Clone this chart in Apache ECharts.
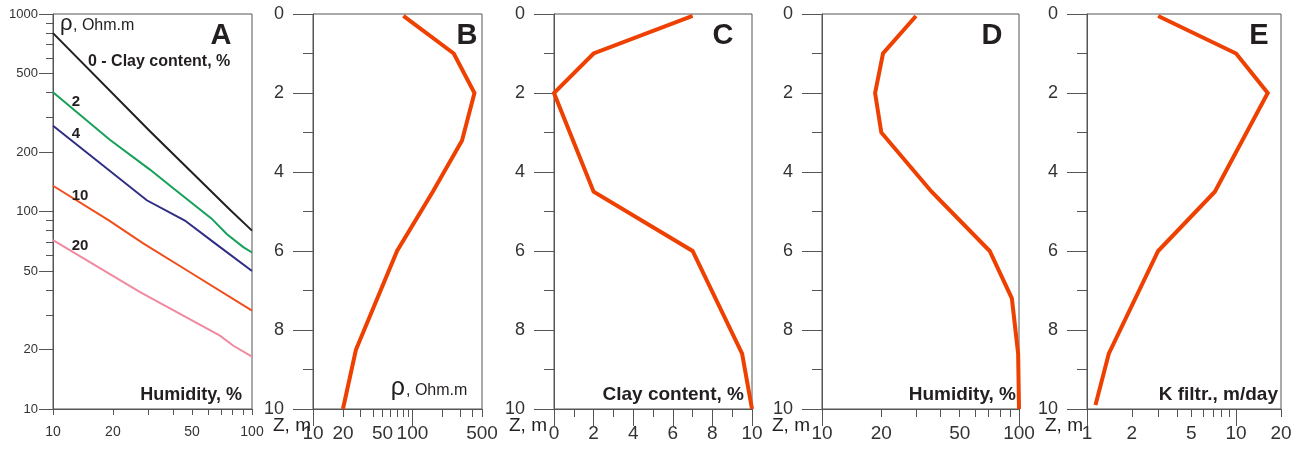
<!DOCTYPE html>
<html>
<head>
<meta charset="utf-8">
<script src="https://cdn.jsdelivr.net/npm/echarts@6/dist/echarts.min.js"></script>
<style>
html,body{margin:0;padding:0;background:#fff;}
#main{width:1298px;height:451px;}
</style>
</head>
<body>
<div id="main"></div>
<script>
// ---------- DATA ----------
// Panel A: resistivity vs humidity for several clay contents
const A_clay0_W = [10, 30.7, 77.5, 100];
const A_clay0_rho = [800, 255, 102, 80];
const A_clay2_W = [10, 19.3, 30.7, 40.2, 62.7, 74.6, 90.4, 100];
const A_clay2_rho = [402, 231, 163, 131, 92, 77, 66, 62];
const A_clay4_W = [10, 29.6, 46, 64, 100];
const A_clay4_rho = [272, 114, 90, 70, 50];
const A_clay10_W = [10, 19, 28.4, 47, 100];
const A_clay10_rho = [135, 90.5, 69, 50.4, 31.5];
const A_clay20_W = [10, 27.4, 69, 80.6, 100];
const A_clay20_rho = [71.6, 39.1, 23.5, 20.9, 18.4];

// Panel B: resistivity profile
const depthB = [0.05, 1, 2, 3.2, 4.5, 6, 8.5, 10];
const rhoB = [81, 260, 420, 315, 160, 70, 27, 20];
// Panel C: clay content profile
const depthC = [0.05, 1, 2, 4.5, 6, 8.6, 10];
const clayC = [7, 2, 0, 2, 7, 9.5, 10];
// Panel D: humidity profile
const depthD = [0.05, 1, 2, 3, 4.5, 6, 7.2, 8.6, 10];
const humD = [30, 20.4, 18.6, 20, 36, 71, 92, 99, 100];
// Panel E: filtration coefficient profile
const depthE = [0.05, 1, 2, 4.5, 6, 8.6, 9.9];
const kE = [3.0, 10, 16.3, 7.2, 3.0, 1.4, 1.14];

// Tick values
const A_xLabels = [10, 20, 50, 100];
const A_xTicks = [10, 20, 30, 40, 50, 60, 70, 80, 90, 100];
const A_yLabels = [10, 20, 50, 100, 200, 500, 1000];
const A_yMinor = [30, 40, 60, 70, 80, 90, 300, 400, 600, 700, 800, 900];
const B_xLabels = [10, 20, 50, 100, 500];
const B_xMajor = [10, 100];
const B_xMinor = [20, 30, 40, 50, 60, 70, 80, 90, 200, 300, 400, 500];
const C_xLabels = [0, 2, 4, 6, 8, 10];
const C_xMinor = [1, 3, 5, 7, 9];
const D_xLabels = [10, 20, 50, 100];
const D_xMajor = [10, 100];
const D_xMinor = [20, 30, 40, 50, 60, 70, 80, 90];
const E_xLabels = [1, 2, 5, 10, 20];
const E_xMajor = [1, 10];
const E_xMinor = [2, 3, 4, 5, 6, 7, 8, 9, 20];
const depthMin = 0, depthMax = 10, depthStep = 2;

// ---------- STYLE ----------
const FONT = '"Liberation Sans", Arial, sans-serif';
const AX = '#555';
const TXT = '#333';
const PROFILE = '#ee4000';
const TOP = 14, H = 395;
const plain = v => String(Math.round(v * 1000) / 1000);

const grids = [
  {left: 53, top: TOP, width: 199, height: H},
  {left: 313, top: TOP, width: 169, height: H},
  {left: 554, top: TOP, width: 198, height: H},
  {left: 822, top: TOP, width: 197, height: H},
  {left: 1087, top: TOP, width: 194, height: H}
].map(g => Object.assign(g, {show: true, borderColor: AX, borderWidth: 1, backgroundColor: 'transparent', containLabel: false}));

const xAxis = [], yAxis = [];
const yIndex = [];
function addX(gi, type, min, max, labels, major, minor, majLen, minLen, fs, margin) {
  const base = {gridIndex: gi, type, min, max, position: 'bottom', splitLine: {show: false}};
  if (type === 'log') base.logBase = 10;
  xAxis.push(Object.assign({}, base, {
    axisLine: {show: true, onZero: false, lineStyle: {color: AX, width: 1}},
    axisTick: {show: true, customValues: major, length: majLen, lineStyle: {color: AX, width: 1}},
    axisLabel: {show: true, customValues: labels, fontSize: fs, color: TXT, margin, fontFamily: FONT, formatter: plain}
  }));
  xAxis.push(Object.assign({}, base, {
    axisLine: {show: false, onZero: false},
    axisTick: {show: minor.length > 0, customValues: minor.length ? minor : [min], length: minLen, lineStyle: {color: AX, width: 1}},
    axisLabel: {show: false}
  }));
}

// Panel A y (log): minor-tick axis first, then labelled axis
yAxis.push({
  gridIndex: 0, type: 'log', logBase: 10, min: 10, max: 1000, position: 'left', splitLine: {show: false},
  axisLine: {show: false, onZero: false},
  axisTick: {show: true, customValues: A_yMinor, length: 7, lineStyle: {color: AX, width: 1}},
  axisLabel: {show: false}
});
yAxis.push({
  gridIndex: 0, type: 'log', logBase: 10, min: 10, max: 1000, position: 'left', splitLine: {show: false},
  axisLine: {show: true, onZero: false, lineStyle: {color: AX, width: 1}},
  axisTick: {show: true, customValues: A_yLabels, length: 14, lineStyle: {color: AX, width: 1}},
  axisLabel: {show: true, customValues: A_yLabels, fontSize: 13, color: TXT, margin: 15, fontFamily: FONT,
              showMinLabel: true, showMaxLabel: true, formatter: plain}
});
yIndex.push(1);
// Panels B-E y (depth, linear, inverted)
for (let gi = 1; gi <= 4; gi++) {
  yIndex.push(yAxis.length);
  yAxis.push({
    gridIndex: gi, type: 'value', min: depthMin, max: depthMax, interval: depthStep, inverse: true,
    position: 'left', splitLine: {show: false},
    axisLine: {show: true, onZero: false, lineStyle: {color: AX, width: 1}},
    axisTick: {show: true, length: 20, lineStyle: {color: AX, width: 1}},
    minorTick: {show: true, splitNumber: 2, length: 10, lineStyle: {color: AX, width: 1}},
    axisLabel: {show: true, fontSize: 18, color: TXT, margin: 29, fontFamily: FONT,
                showMinLabel: true, showMaxLabel: true}
  });
}

addX(0, 'log', 10, 100, A_xLabels, A_xTicks, [], 6, 6, 14, 16);
addX(1, 'log', 10, 500, B_xLabels, B_xMajor, B_xMinor, 17, 8, 19, 15);
addX(2, 'value', 0, 10, C_xLabels, C_xLabels, C_xMinor, 17, 8, 19, 15);
addX(3, 'log', 10, 100, D_xLabels, D_xMajor, D_xMinor, 17, 8, 19, 15);
addX(4, 'log', 1, 20, E_xLabels, E_xMajor, E_xMinor, 17, 8, 19, 15);

function pairs(xs, ys) { return xs.map((x, i) => [x, ys[i]]); }
function lineSeries(panel, data, color, width) {
  return {
    type: 'line', xAxisIndex: panel * 2, yAxisIndex: yIndex[panel], data,
    showSymbol: false, symbol: 'none', clip: false, silent: true,
    lineStyle: {color, width, join: 'miter'}, z: 3
  };
}

const series = [
  lineSeries(0, pairs(A_clay0_W, A_clay0_rho), '#231f20', 2),
  lineSeries(0, pairs(A_clay2_W, A_clay2_rho), '#16a05a', 2),
  lineSeries(0, pairs(A_clay4_W, A_clay4_rho), '#2e2d83', 2),
  lineSeries(0, pairs(A_clay10_W, A_clay10_rho), '#f04e1c', 2),
  lineSeries(0, pairs(A_clay20_W, A_clay20_rho), '#ef8aa0', 2),
  lineSeries(1, pairs(rhoB, depthB), PROFILE, 4),
  lineSeries(2, pairs(clayC, depthC), PROFILE, 4),
  lineSeries(3, pairs(humD, depthD), PROFILE, 4),
  lineSeries(4, pairs(kE, depthE), PROFILE, 4)
];

function txt(text, x, y, size, opts) {
  opts = opts || {};
  return {
    type: 'text', silent: true, z: 10,
    style: {
      text, x, y, fill: opts.fill || '#231f20',
      font: (opts.bold ? 'bold ' : '') + size + 'px ' + FONT,
      align: opts.align || 'left', verticalAlign: 'middle'
    }
  };
}

const graphic = [
  // Panel A
  txt('ρ', 60, 24, 22),
  txt(', Ohm.m', 73, 26, 16),
  txt('A', 221, 36, 29, {bold: true, align: 'center'}),
  txt('0 - Clay content, %', 88, 62, 16, {bold: true}),
  txt('2', 76, 102, 15, {bold: true, align: 'center'}),
  txt('4', 76, 134, 15, {bold: true, align: 'center'}),
  txt('10', 80, 196, 15, {bold: true, align: 'center'}),
  txt('20', 80, 246, 15, {bold: true, align: 'center'}),
  txt('Humidity, %', 242, 395, 18, {bold: true, align: 'right'}),
  // Panel B
  txt('B', 467, 36, 29, {bold: true, align: 'center'}),
  txt('ρ', 405, 388, 25, {align: 'right'}),
  txt(', Ohm.m', 406, 391, 16),
  txt('Z, m', 311, 426, 19, {align: 'right'}),
  // Panel C
  txt('C', 723, 36, 29, {bold: true, align: 'center'}),
  txt('Clay content, %', 744, 395, 19, {bold: true, align: 'right'}),
  txt('Z, m', 547, 426, 19, {align: 'right'}),
  // Panel D
  txt('D', 992, 36, 29, {bold: true, align: 'center'}),
  txt('Humidity, %', 1016, 395, 19, {bold: true, align: 'right'}),
  txt('Z, m', 810, 426, 19, {align: 'right'}),
  // Panel E
  txt('E', 1259, 36, 29, {bold: true, align: 'center'}),
  txt('K filtr., m/day', 1278, 395, 19, {bold: true, align: 'right'}),
  txt('Z, m', 1083, 426, 19, {align: 'right'})
];

const chart = echarts.init(document.getElementById('main'), null, {renderer: 'canvas'});
chart.setOption({
  animation: false,
  backgroundColor: '#fff',
  textStyle: {fontFamily: FONT},
  grid: grids,
  xAxis, yAxis, series, graphic
});
</script>
</body>
</html>
